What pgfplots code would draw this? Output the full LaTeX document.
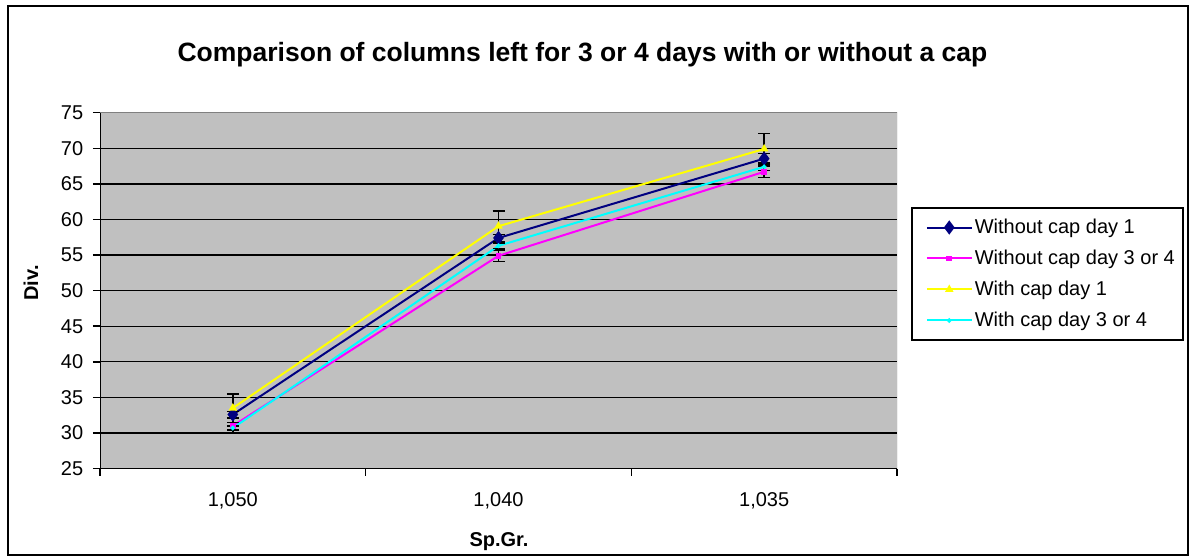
\documentclass[border=0pt]{standalone}
\usepackage{fontspec}
\setmainfont{Liberation Sans}
\usepackage{pgfplots}
\pgfplotsset{compat=1.18}
\definecolor{navyb}{RGB}{0,0,128}
\definecolor{plotgray}{RGB}{192,192,192}
\definecolor{bordergray}{RGB}{128,128,128}
\definecolor{magentab}{RGB}{255,0,255}
\definecolor{yellowb}{RGB}{255,255,0}
\definecolor{cyanb}{RGB}{0,255,255}
\begin{document}
\fontsize{20pt}{24pt}\selectfont
\begin{tikzpicture}[x=1pt,y=1pt]
\path[use as bounding box] (0,0) rectangle (1194,556);
\draw[black, line width=2pt] (8,1) rectangle (1188,550);
\node[font=\bfseries\fontsize{26.5pt}{30pt}\selectfont, anchor=base] at (582.5,494) {Comparison of columns left for 3 or 4 days with or without a cap};
\node[font=\bfseries\fontsize{20pt}{24pt}\selectfont, anchor=base] at (499,9) {Sp.Gr.};
\node[font=\bfseries\fontsize{20pt}{24pt}\selectfont, rotate=90, anchor=center] at (31,273) {Div.};
\begin{axis}[
  at={(100pt,87.4pt)}, anchor=south west,
  scale only axis, width=797pt, height=355.9pt,
  xmin=-0.5, xmax=2.5, ymin=25, ymax=75,
  axis background/.style={fill=plotgray},
  axis line style={draw=none},
  /pgf/number format/assume math mode=true,
  ticklabel style={font=\fontsize{20pt}{24pt}\selectfont},
  xticklabel style={yshift=-10pt},
  yticklabel style={xshift=-3pt},
  tick align=outside,
  xtick pos=bottom, ytick pos=left,
  xtick={0,1,2},
  xticklabels={{1,050},{1,040},{1,035}},
  major x tick style={draw=none},
  extra x ticks={-0.5,0.5,1.5,2.5},
  extra x tick labels={},
  extra x tick style={major tick length=7pt, major x tick style={draw=black, line width=1.5pt}},
  ytick={25,30,...,75},
  major tick length=7pt,
  major y tick style={draw=black, line width=1.5pt},
  extra y ticks={30,35,...,70},
  extra y tick labels={},
  extra y tick style={grid=major, major tick length=0pt},
  major grid style={black, line width=1.3pt},
  error bars/error bar style={black, line width=1.5pt},
  error bars/error mark options={black, line width=1.5pt, mark size=6pt, rotate=90},
  legend style={at={(1.0176,0.735)}, anchor=north west, draw=black, line width=1.5pt,
    fill=white, font=\fontsize{20pt}{24pt}\selectfont, row sep=9.5pt,
    inner xsep=6pt, inner ysep=9pt, cells={anchor=west}},
  legend image code/.code={\path (0pt,0pt); \draw[mark repeat=2,mark phase=2] plot coordinates {(8pt,0pt) (30.5pt,0pt) (53pt,0pt)};},
]
\addplot[navyb, line width=2pt, mark=diamond*, mark size=5.5pt, mark options={solid, fill=navyb},
  error bars/.cd, y dir=both, y explicit]
  coordinates {(0,32.6) +- (0,0.4) (1,57.4) +- (0,0.5) (2,68.55) +- (0,0.7)};
\addlegendentry{Without cap day 1}
\addplot[magentab, line width=2pt, mark=square*, mark size=1.8pt, mark options={solid, fill=magentab},
  error bars/.cd, y dir=both, y explicit]
  coordinates {(0,31.0) +- (0,1.1) (1,54.9) +- (0,0.8) (2,66.7) +- (0,0.8)};
\addlegendentry{Without cap day 3 or 4}
\addplot[yellowb, line width=2pt, mark=triangle*, mark size=3pt, mark options={solid, fill=yellowb},
  error bars/.cd, y dir=both, y explicit]
  coordinates {(0,33.5) +- (0,2.0) (1,59.05) +- (0,2.15) (2,69.9) +- (0,2.2)};
\addlegendentry{With cap day 1}
\addplot[cyanb, line width=2pt, mark=*, mark size=1.2pt, mark options={solid, fill=cyanb},
  error bars/.cd, y dir=both, y explicit]
  coordinates {(0,30.7) +- (0,0.3) (1,56.3) +- (0,0.4) (2,67.4) +- (0,0.5)};
\addlegendentry{With cap day 3 or 4}
\draw[bordergray, line width=1pt] (rel axis cs:0,1) -- (rel axis cs:1,1) -- (rel axis cs:1,0);
\draw[black, line width=1.5pt] (rel axis cs:0,1) -- (rel axis cs:0,0) -- (rel axis cs:1,0);
\end{axis}
\end{tikzpicture}
\end{document}
